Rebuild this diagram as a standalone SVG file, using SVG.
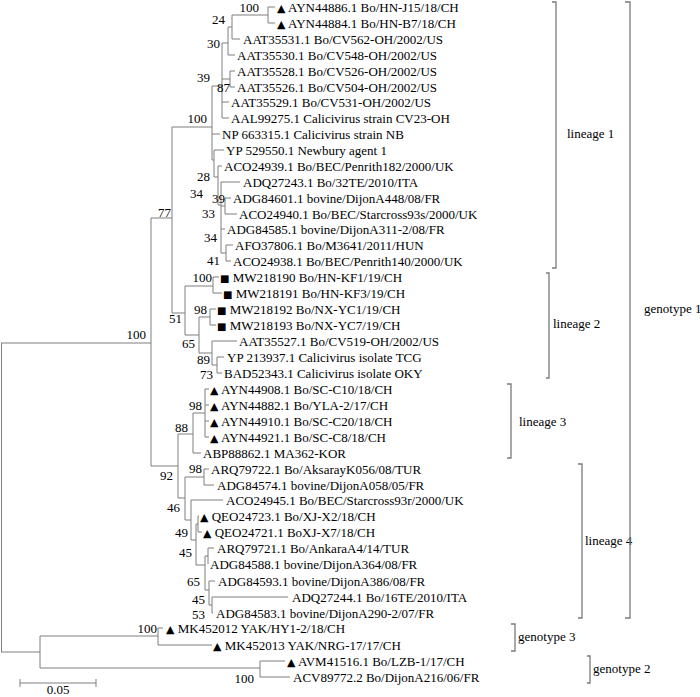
<svg xmlns="http://www.w3.org/2000/svg" width="700" height="697" viewBox="0 0 700 697">
<style>
text{font-family:"Liberation Serif","Times New Roman",serif;font-size:13px;fill:#000}
.bs{text-anchor:end}
.tri{font-family:"DejaVu Sans",sans-serif;font-size:11px}
.sq{font-family:"DejaVu Sans",sans-serif;font-size:10px}
.br{fill:none;stroke:#7a7a7a;stroke-width:1.3}
#connectors path{fill:none;stroke:#7f7f7f;stroke-width:1}
</style>
<rect width="700" height="697" fill="#fff"/>
<g id="connectors">
<path d="M1.5 343V652M1 343H151M151 218V466M151 218H172M172 127V313M172 127H212M212 86V160M212 86H222M222 43V118M222 43H228M228 27V55M228 27H232M232 15V39M232 15H268M268 7V23M268 7H275M268 23H275M232 39H240M228 55H235M222 79H230M230 71V87M230 71H235M230 87H235M222 102H229M222 118H229M212 134H220M212 160H214M214 150V177M214 150H224M214 177H218M218 166V205M218 166H222M218 205H221M221 182V253M221 182H240M221 206H225M225 198V214M225 198H231M225 214H237M221 229H225M221 253H226M226 245V261M226 245H233M226 261H231"/>
<path d="M172 313H185M185 286V335M185 286H213M213 277V293M213 277H219M213 293H222M185 335H199M199 317V353M199 317H210M210 309V325M210 309H216M210 325H216M199 353H212M212 341V365M212 341H237M212 365H217M217 357V373M217 357H224M217 373H222"/>
<path d="M151 466H178M178 434V498M178 434H193M193 413V453M193 413H205M205 389V437M205 389H209M205 405H209M205 421H209M205 437H209M193 453H201M178 498H185M185 477V520M185 477H204M204 469V485M204 469H209M204 485H214M185 520H191M191 500V540M191 500H223M191 540H196M196 524V565M196 524H198M198 516V532M198 516H199M198 532H202M196 565H205M205 556V590M205 556H208M208 548V564M208 548H214M205 590H209M209 581V605M209 581H215M209 605H212M212 597V613M212 597H288M212 613H213"/>
<path d="M1 652H40M40 636V668M40 636H158M158 628V645M158 628H163M158 645H212M40 668H260M260 661V677M260 661H285M260 677H290"/>
<path d="M20 683H96M20 679V687M96 679V687"/>
</g>
<g id="bootstrap">
<text class="bs" x="259" y="12">100</text>
<text class="bs" x="225" y="24">24</text>
<text class="bs" x="220" y="48">30</text>
<text class="bs" x="210" y="82">39</text>
<text class="bs" x="230" y="92">87</text>
<text class="bs" x="207" y="123">100</text>
<text class="bs" x="210" y="181">28</text>
<text class="bs" x="203" y="198">34</text>
<text class="bs" x="225" y="203">39</text>
<text class="bs" x="215" y="218">33</text>
<text class="bs" x="217" y="242">34</text>
<text class="bs" x="220" y="265">41</text>
<text class="bs" x="171" y="217">77</text>
<text class="bs" x="212" y="282">100</text>
<text class="bs" x="182" y="323">51</text>
<text class="bs" x="207" y="314">98</text>
<text class="bs" x="195" y="348">65</text>
<text class="bs" x="210" y="364">89</text>
<text class="bs" x="213" y="379">73</text>
<text class="bs" x="146" y="339">100</text>
<text class="bs" x="202" y="410">98</text>
<text class="bs" x="188" y="432">88</text>
<text class="bs" x="173" y="480">92</text>
<text class="bs" x="202" y="473">98</text>
<text class="bs" x="180" y="512">46</text>
<text class="bs" x="188" y="537">49</text>
<text class="bs" x="192" y="557">45</text>
<text class="bs" x="200" y="586">65</text>
<text class="bs" x="205" y="604">45</text>
<text class="bs" x="205" y="619">53</text>
<text class="bs" x="157" y="633">100</text>
<text class="bs" x="254" y="683">100</text>
</g>
<g id="leaf1"><text x="277" y="12"><tspan class="tri">▲</tspan> AYN44886.1 Bo/HN-J15/18/CH</text></g>
<g id="leaf2"><text x="277" y="28"><tspan class="tri">▲</tspan> AYN44884.1 Bo/HN-B7/18/CH</text></g>
<g id="leaf3"><text x="243" y="44">AAT35531.1 Bo/CV562-OH/2002/US</text></g>
<g id="leaf4"><text x="237" y="60">AAT35530.1 Bo/CV548-OH/2002/US</text></g>
<g id="leaf5"><text x="237" y="76">AAT35528.1 Bo/CV526-OH/2002/US</text></g>
<g id="leaf6"><text x="237" y="92">AAT35526.1 Bo/CV504-OH/2002/US</text></g>
<g id="leaf7"><text x="231" y="107">AAT35529.1 Bo/CV531-OH/2002/US</text></g>
<g id="leaf8"><text x="231" y="123">AAL99275.1 Calicivirus strain CV23-OH</text></g>
<g id="leaf9"><text x="222" y="139">NP 663315.1 Calicivirus strain NB</text></g>
<g id="leaf10"><text x="226" y="155">YP 529550.1 Newbury agent 1</text></g>
<g id="leaf11"><text x="224" y="171">ACO24939.1 Bo/BEC/Penrith182/2000/UK</text></g>
<g id="leaf12"><text x="243" y="187">ADQ27243.1 Bo/32TE/2010/ITA</text></g>
<g id="leaf13"><text x="233" y="203">ADG84601.1 bovine/DijonA448/08/FR</text></g>
<g id="leaf14"><text x="239" y="219">ACO24940.1 Bo/BEC/Starcross93s/2000/UK</text></g>
<g id="leaf15"><text x="227" y="234">ADG84585.1 bovine/DijonA311-2/08/FR</text></g>
<g id="leaf16"><text x="235" y="250">AFO37806.1 Bo/M3641/2011/HUN</text></g>
<g id="leaf17"><text x="233" y="266">ACO24938.1 Bo/BEC/Penrith140/2000/UK</text></g>
<g id="leaf18"><text x="220" y="282"><tspan class="sq">■</tspan> MW218190 Bo/HN-KF1/19/CH</text></g>
<g id="leaf19"><text x="223" y="298"><tspan class="sq">■</tspan> MW218191 Bo/HN-KF3/19/CH</text></g>
<g id="leaf20"><text x="217" y="314"><tspan class="sq">■</tspan> MW218192 Bo/NX-YC1/19/CH</text></g>
<g id="leaf21"><text x="217" y="330"><tspan class="sq">■</tspan> MW218193 Bo/NX-YC7/19/CH</text></g>
<g id="leaf22"><text x="239" y="346">AAT35527.1 Bo/CV519-OH/2002/US</text></g>
<g id="leaf23"><text x="227" y="362">YP 213937.1 Calicivirus isolate TCG</text></g>
<g id="leaf24"><text x="224" y="378">BAD52343.1 Calicivirus isolate OKY</text></g>
<g id="leaf25"><text x="210" y="394"><tspan class="tri">▲</tspan> AYN44908.1 Bo/SC-C10/18/CH</text></g>
<g id="leaf26"><text x="210" y="410"><tspan class="tri">▲</tspan> AYN44882.1 Bo/YLA-2/17/CH</text></g>
<g id="leaf27"><text x="210" y="426"><tspan class="tri">▲</tspan> AYN44910.1 Bo/SC-C20/18/CH</text></g>
<g id="leaf28"><text x="210" y="442"><tspan class="tri">▲</tspan> AYN44921.1 Bo/SC-C8/18/CH</text></g>
<g id="leaf29"><text x="203" y="458">ABP88862.1 MA362-KOR</text></g>
<g id="leaf30"><text x="211" y="474">ARQ79722.1 Bo/AksarayK056/08/TUR</text></g>
<g id="leaf31"><text x="217" y="490">ADG84574.1 bovine/DijonA058/05/FR</text></g>
<g id="leaf32"><text x="226" y="505">ACO24945.1 Bo/BEC/Starcross93r/2000/UK</text></g>
<g id="leaf33"><text x="200" y="521"><tspan class="tri">▲</tspan> QEO24723.1 Bo/XJ-X2/18/CH</text></g>
<g id="leaf34"><text x="203" y="537"><tspan class="tri">▲</tspan> QEO24721.1 BoXJ-X7/18/CH</text></g>
<g id="leaf35"><text x="217" y="553">ARQ79721.1 Bo/AnkaraA4/14/TUR</text></g>
<g id="leaf36"><text x="210" y="569">ADG84588.1 bovine/DijonA364/08/FR</text></g>
<g id="leaf37"><text x="218" y="586">ADG84593.1 bovine/DijonA386/08/FR</text></g>
<g id="leaf38"><text x="292" y="602">ADQ27244.1 Bo/16TE/2010/ITA</text></g>
<g id="leaf39"><text x="216" y="618">ADG84583.1 bovine/DijonA290-2/07/FR</text></g>
<g id="leaf40"><text x="166" y="633"><tspan class="tri">▲</tspan> MK452012 YAK/HY1-2/18/CH</text></g>
<g id="leaf41"><text x="213" y="650"><tspan class="tri">▲</tspan> MK452013 YAK/NRG-17/17/CH</text></g>
<g id="leaf42"><text x="287" y="666"><tspan class="tri">▲</tspan> AVM41516.1 Bo/LZB-1/17/CH</text></g>
<g id="leaf43"><text x="293" y="682">ACV89772.2 Bo/DijonA216/06/FR</text></g>
<g id="scale"><text x="58" y="694" text-anchor="middle">0.05</text></g>
<g id="lineage1"><path class="br" d="M552 2H556V268H552"/><text x="567" y="138">lineage 1</text></g>
<g id="lineage2"><path class="br" d="M546 273H549V378H546"/><text x="553" y="328">lineage 2</text></g>
<g id="lineage3"><path class="br" d="M507 384H511V458H507"/><text x="519" y="426">lineage 3</text></g>
<g id="lineage4"><path class="br" d="M578 464H582V618H578"/><text x="585" y="545">lineage 4</text></g>
<g id="genotype1"><path class="br" d="M625 2H630V618H625"/><text x="644" y="313">genotype 1</text></g>
<g id="genotype3"><path class="br" d="M511 624H515V651H511"/><text x="518" y="641">genotype 3</text></g>
<g id="genotype2"><path class="br" d="M587 656H590V683H587"/><text x="593" y="673">genotype 2</text></g>
</svg>
